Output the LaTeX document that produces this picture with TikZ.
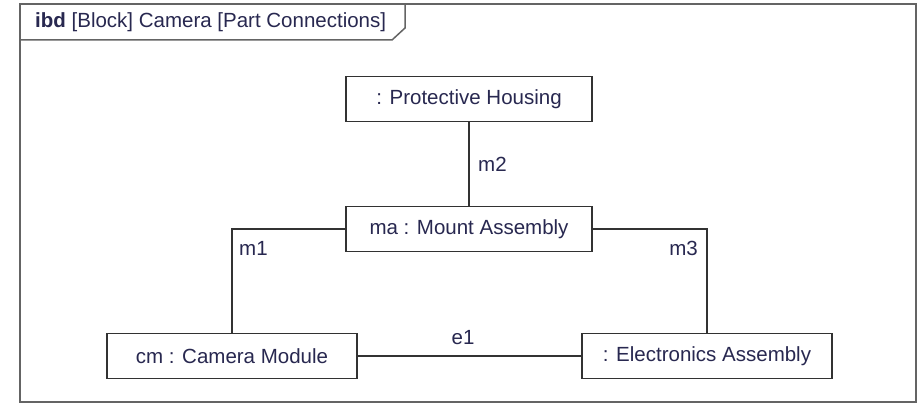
\documentclass[tikz,border=0pt]{standalone}
\usepackage{fontspec}
\setmainfont{Liberation Sans}
\definecolor{txt}{RGB}{40,40,80}
\definecolor{ln}{RGB}{50,50,50}
\definecolor{frm}{RGB}{100,100,100}
\begin{document}
\begin{tikzpicture}[x=1pt,y=-1pt,
  part/.style={draw=ln,line width=1.8pt,fill=white,minimum height=45pt,inner sep=0pt,text=txt,font=\fontsize{20.5}{24}\selectfont},
  conn/.style={draw=ln,line width=1.8pt},
  lbl/.style={text=txt,font=\fontsize{20.5}{24}\selectfont,inner sep=0pt}]
\useasboundingbox[fill=white] (0,0) rectangle (921,404);
% frame
\draw[frm,line width=1.5pt] (20,4) rectangle (916,402);
\draw[frm,line width=1.5pt] (20,40) -- (392,40) -- (405,28) -- (405,4);
\node[lbl,anchor=west] (hdr) at (35,22) {\textbf{ibd} [Block] Camera [Part Connections]};
% parts
\node[part,minimum width=246pt] (ph) at (469,99) {: Protective Housing};
\node[part,minimum width=246pt] (ma) at (469,229) {ma : Mount Assembly};
\node[part,minimum width=250pt] (cm) at (232,356) {cm : Camera Module};
\node[part,minimum width=250pt] (ea) at (707,356) {: Electronics Assembly};
% connectors
\draw[conn] (ph.south) -- (ma.north);
\draw[conn] (ma.west) -| (cm.north);
\draw[conn] (ma.east) -| (ea.north);
\draw[conn] (cm.east) -- (ea.west);
% labels
\node[lbl,anchor=west] (lm2) at (478,164) {m2};
\node[lbl,anchor=west] (lm1) at (239,248) {m1};
\node[lbl,anchor=east] (lm3) at (698,248) {m3};
\node[lbl] (le1) at (463,338) {e1};
\end{tikzpicture}
\end{document}
